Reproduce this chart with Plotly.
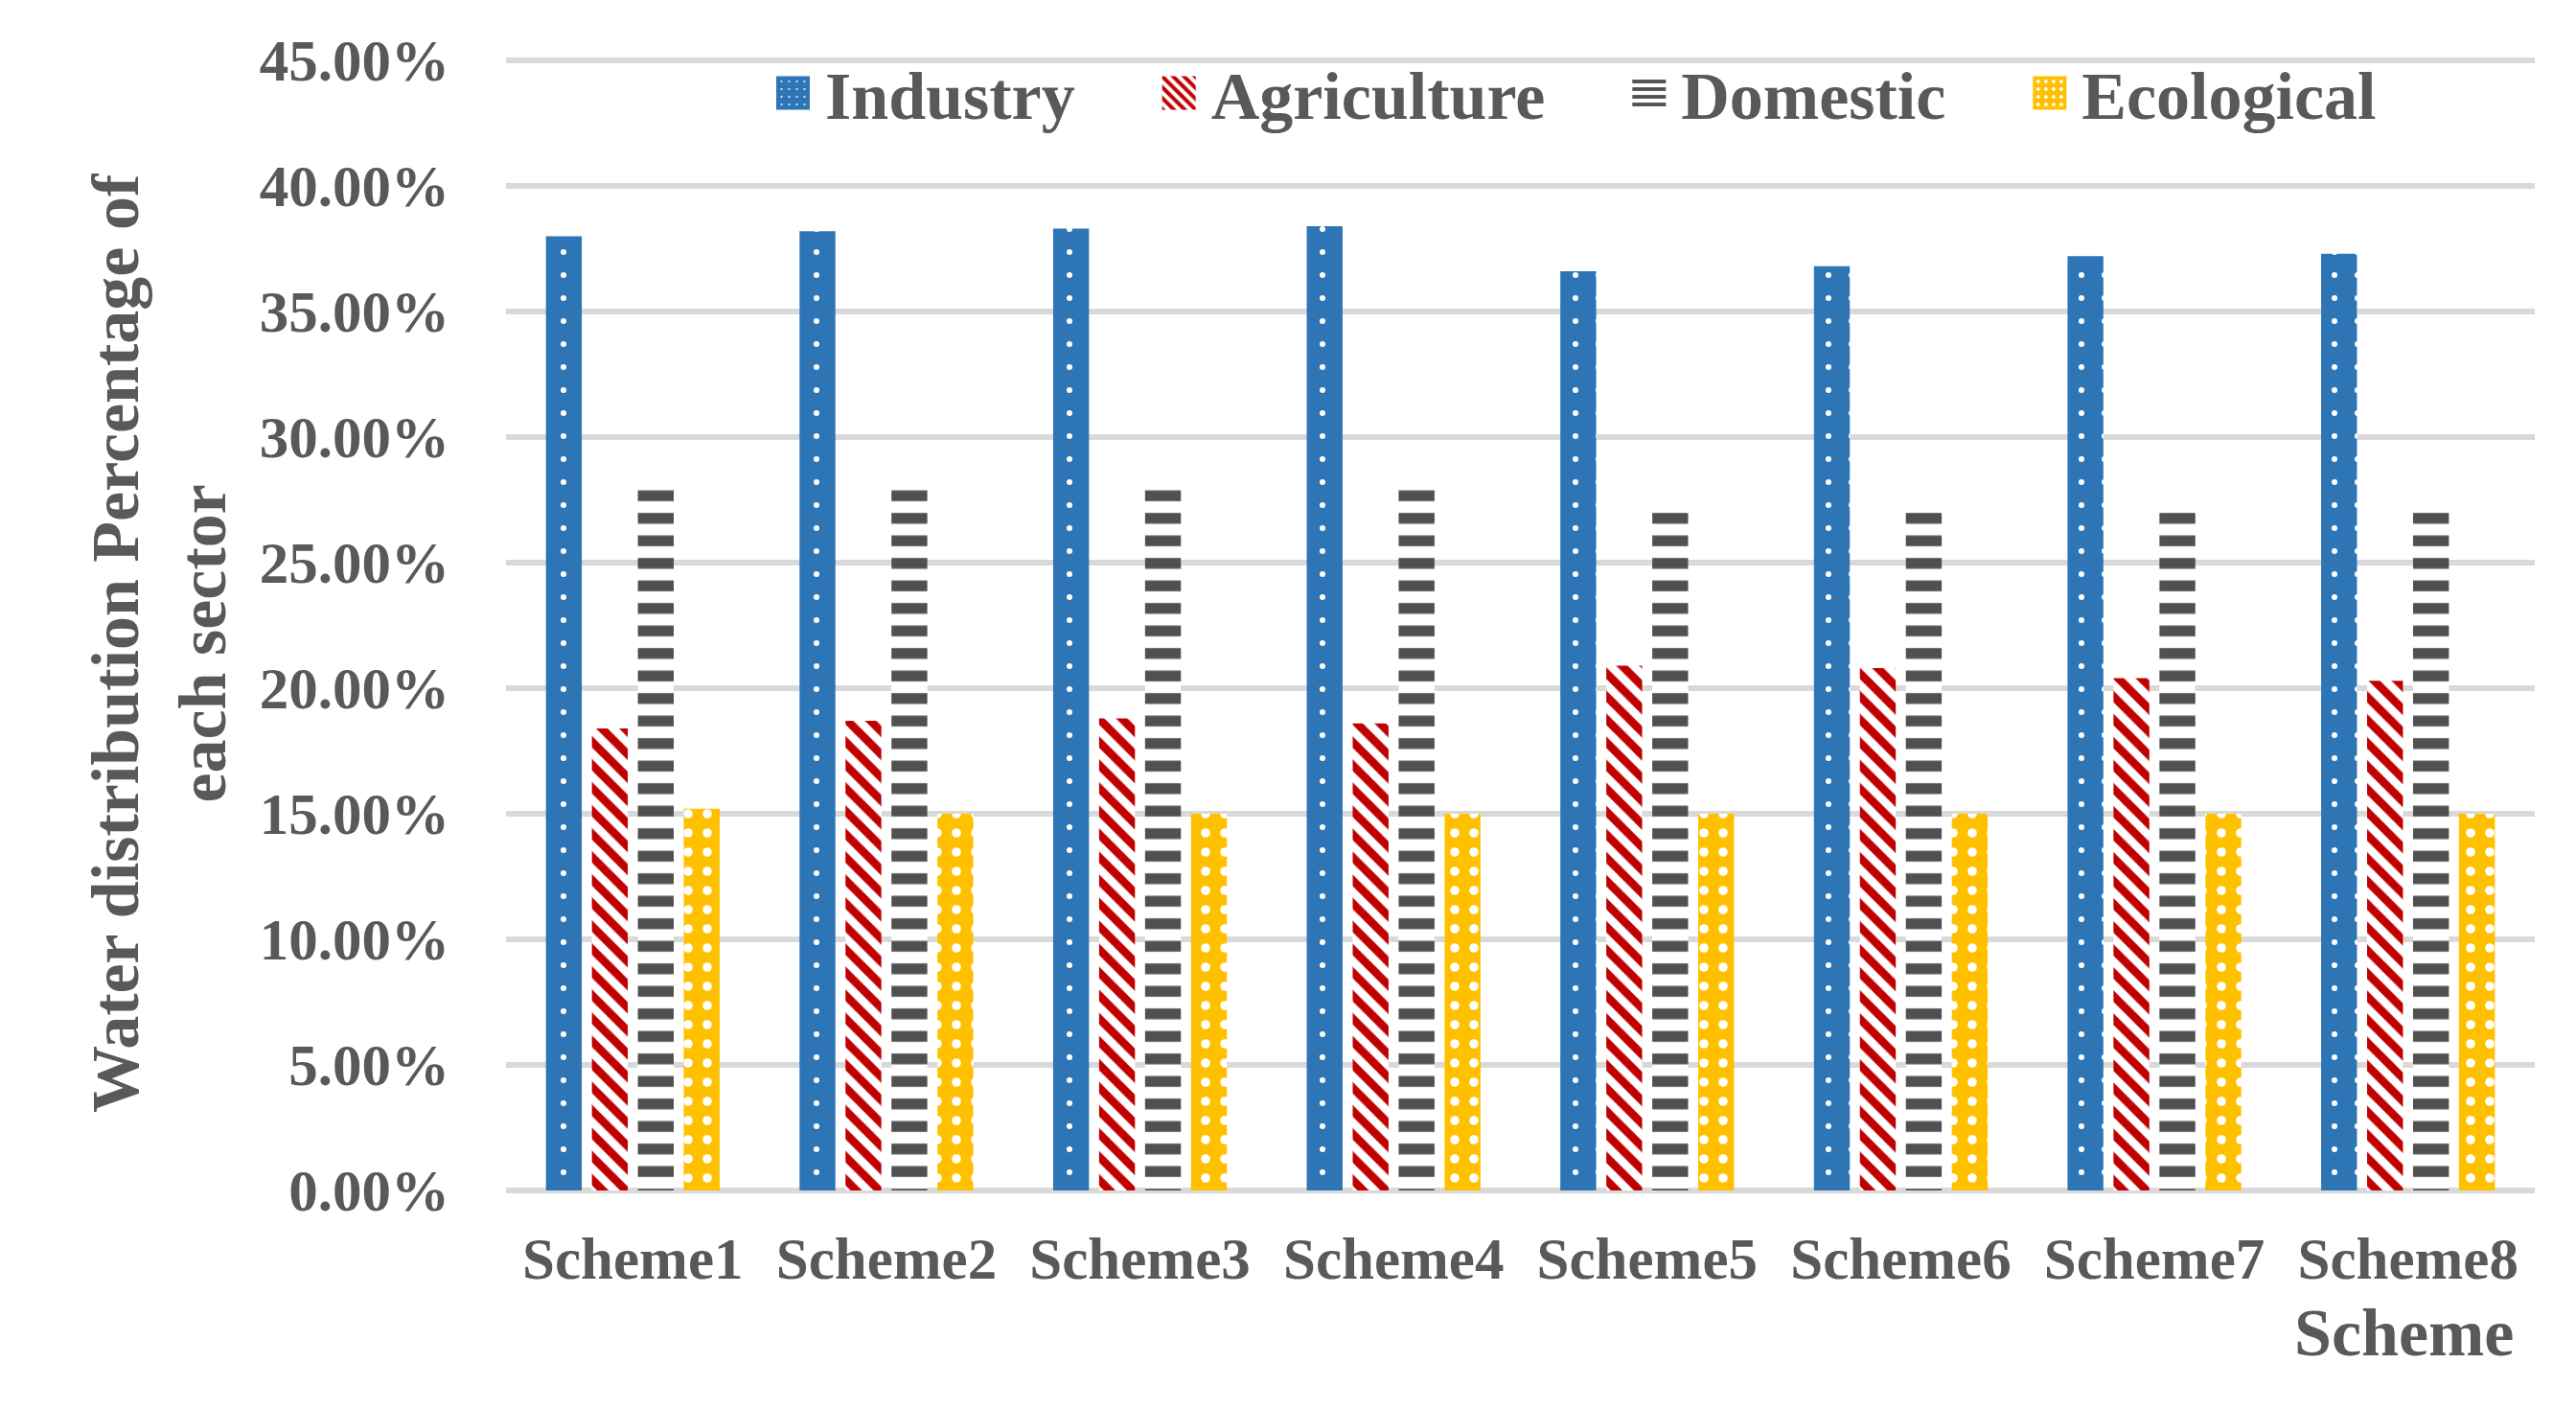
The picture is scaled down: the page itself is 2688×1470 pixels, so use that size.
import plotly.graph_objects as go

schemes = ["Scheme1", "Scheme2", "Scheme3", "Scheme4", "Scheme5", "Scheme6", "Scheme7", "Scheme8"]
industry = [38.0, 38.2, 38.3, 38.4, 36.6, 36.8, 37.2, 37.3]
agriculture = [18.4, 18.7, 18.8, 18.6, 20.9, 20.8, 20.4, 20.3]
domestic = [28.0, 28.0, 28.0, 28.0, 27.0, 27.0, 27.0, 27.0]
ecological = [15.2, 15.0, 15.0, 15.0, 15.0, 15.0, 15.0, 15.0]
y_ticks = [0, 5, 10, 15, 20, 25, 30, 35, 40, 45]
y_ticktext = [f"{v:.2f}%" for v in y_ticks]

FONT = "Liberation Serif"
TXT = "#595959"
NB = "\u00a0" * 4

fig = go.Figure()
fig.add_trace(go.Bar(
    name="Industry" + NB, x=schemes, y=industry,
    marker=dict(color="#2E75B6", line=dict(width=0),
                pattern=dict(shape=".", fgcolor="white", bgcolor="#2E75B6",
                             size=24, solidity=0.05, fillmode="replace")),
))
fig.add_trace(go.Bar(
    name="Agriculture" + NB, x=schemes, y=agriculture,
    marker=dict(color="#C00000", line=dict(width=0),
                pattern=dict(shape="\\", fgcolor="#C00000", bgcolor="white",
                             size=17, solidity=0.5, fillmode="replace")),
))
fig.add_trace(go.Bar(
    name="Domestic" + NB, x=schemes, y=domestic,
    marker=dict(color="#505050", line=dict(width=0),
                pattern=dict(shape="-", fgcolor="#505050", bgcolor="white",
                             size=23.5, solidity=0.48, fillmode="replace")),
))
fig.add_trace(go.Bar(
    name="Ecological", x=schemes, y=ecological,
    marker=dict(color="#FFC000", line=dict(width=0),
                pattern=dict(shape=".", fgcolor="white", bgcolor="#FFC000",
                             size=20, solidity=0.18, fillmode="replace")),
))

W, H = 2688, 1470
# plot area: 0% at y=1242, 45% at y=63; small headroom so the 45% grid line is drawn
k = (1242 - 63) / 45.0
head = 4
y_top = 45 + head / k
L, R, T, B = 528, 43, 63 - head, 228
pw, ph = W - L - R, H - T - B

def px_x(px):
    return (px - L) / pw

def px_y(py):
    return (H - B - py) / ph

fig.update_layout(
    width=W, height=H,
    margin=dict(l=L, r=R, t=T, b=B, pad=0),
    paper_bgcolor="white", plot_bgcolor="white",
    font=dict(family=FONT, color=TXT, size=61, weight="bold"),
    barmode="group", bargap=0.275, bargroupgap=0.22,
    showlegend=True,
    legend=dict(orientation="h", x=px_x(794), xanchor="left",
                y=px_y(97), yanchor="middle",
                font=dict(family=FONT, size=70, color=TXT, weight="bold"),
                itemwidth=57, bgcolor="rgba(0,0,0,0)", borderwidth=0,
                traceorder="normal"),
    xaxis=dict(showgrid=False, showline=False, zeroline=False, ticks="",
               tickfont=dict(family=FONT, size=61, color=TXT, weight="bold"),
               ticklabelstandoff=30),
    yaxis=dict(range=[0, y_top], tickmode="array", tickvals=y_ticks, ticktext=y_ticktext,
               showgrid=True, gridcolor="#D9D9D9", gridwidth=5.5,
               zeroline=True, zerolinecolor="#D9D9D9", zerolinewidth=5.5,
               showline=False, ticks="",
               tickfont=dict(family=FONT, size=61, color=TXT, weight="bold"),
               ticklabelstandoff=58),
    annotations=[
        dict(text="Water distribution Percentage of<br>each sector",
             xref="paper", yref="paper", x=px_x(166), y=px_y(671),
             xanchor="center", yanchor="middle", textangle=-90, showarrow=False,
             font=dict(family=FONT, size=70, color=TXT, weight="bold")),
        dict(text="Scheme", xref="paper", yref="paper", x=px_x(2625), y=px_y(1390),
             xanchor="right", yanchor="middle", showarrow=False,
             font=dict(family=FONT, size=70, color=TXT, weight="bold")),
    ],
)

post = """
document.body.style.margin = '0';
document.body.style.padding = '0';
var gd = document.getElementById('{plot_id}');
function bigSym(){
  gd.querySelectorAll('.legendpoints path').forEach(function(p){
    p.setAttribute('d', 'M17.5,17.5H-17.5V-17.5H17.5Z');
  });
}
bigSym();
gd.on('plotly_afterplot', bigSym);
"""
fig.write_html("out.html", post_script=post, config={"displayModeBar": False})
